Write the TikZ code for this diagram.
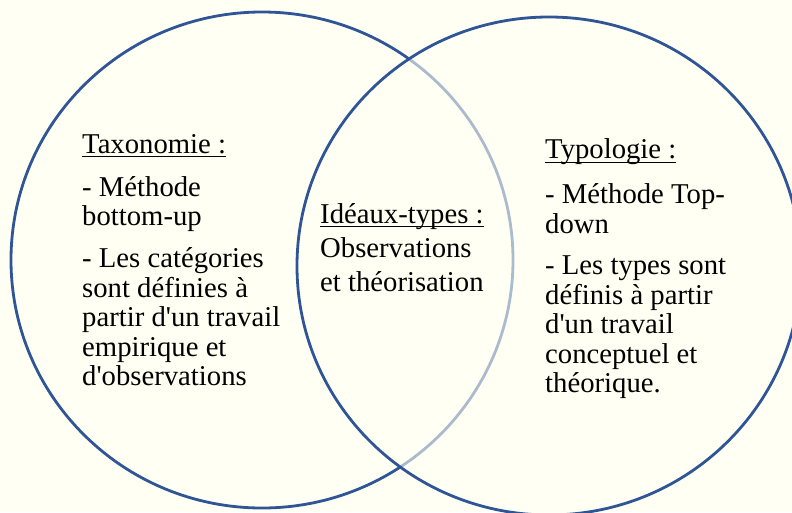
\documentclass[tikz,border=0pt]{standalone}
\usepackage{fontspec}
\setmainfont{Liberation Serif}[Ligatures=TeXOff]
\definecolor{bgcream}{RGB}{255,255,243}
\definecolor{vennblue}{RGB}{47,85,151}
\newcommand\myul[1]{\setbox0\hbox{#1}\rlap{\rule[-4.4pt]{\wd0}{1.3pt}}\box0}
\begin{document}
\begin{tikzpicture}[x=1pt,y=-1pt,
  ring/.style={draw=vennblue,line width=2.8pt},
  txt/.style={anchor=base west,inner sep=0pt,font=\fontsize{28.7}{30}\selectfont,text=black}]
\fill[bgcream] (0,0) rectangle (792,512);
\useasboundingbox (0,0) rectangle (792,512);
% circles
\draw[ring] (262,260) ellipse [x radius=251pt, y radius=248pt];
\path[ring,fill=bgcream,fill opacity=0.6] (549,266) ellipse [x radius=252pt, y radius=249pt];
% left block
\node[txt] (l1) at (82,153) {\myul{Taxonomie :}};
\node[txt] (l2) at (82,196) {- Méthode};
\node[txt] (l3) at (82,225) {bottom-up};
\node[txt] (l4) at (82,267.5) {- Les catégories};
\node[txt] (l5) at (82,297) {sont définies à};
\node[txt] (l6) at (82,326.5) {partir d'un travail};
\node[txt] (l7) at (82,356) {empirique et};
\node[txt] (l8) at (82,385.5) {d'observations};
% middle block
\node[txt] (m1) at (320,223) {\myul{Idéaux-types :}};
\node[txt] (m2) at (320,257.5) {Observations};
\node[txt] (m3) at (320,291.5) {et théorisation};
% right block
\node[txt] (r1) at (545,158.5) {\myul{Typologie :}};
\node[txt] (r2) at (545,203.5) {- Méthode Top-};
\node[txt] (r3) at (545,233) {down};
\node[txt] (r4) at (545,274.5) {- Les types sont};
\node[txt] (r5) at (545,304) {définis à partir};
\node[txt] (r6) at (545,333.5) {d'un travail};
\node[txt] (r7) at (545,363) {conceptuel et};
\node[txt] (r8) at (545,392.5) {théorique.};
\end{tikzpicture}
\end{document}
